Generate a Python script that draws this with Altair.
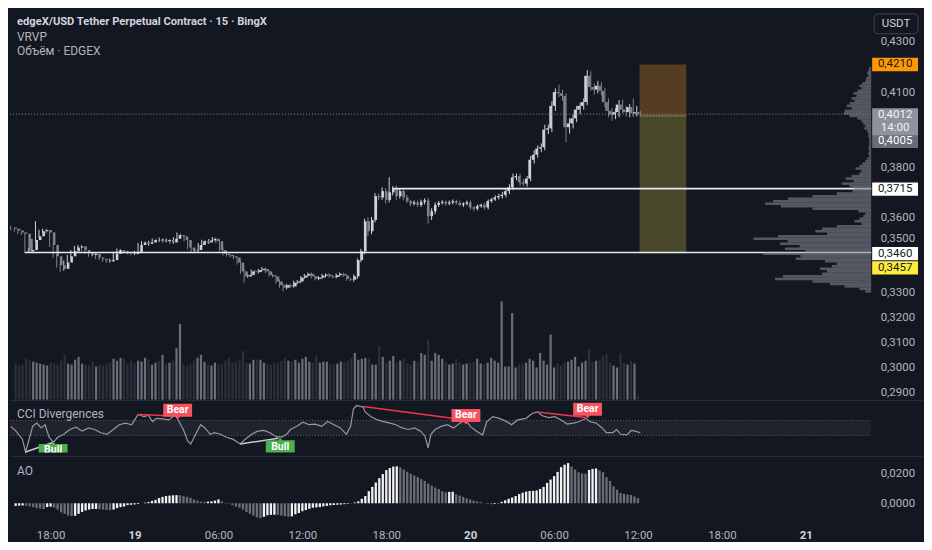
import altair as alt
import pandas as pd

BG = "#131722"
FONT = "Roboto"
W = 864
H_MAIN, H_CCI, H_AO = 392, 52, 64

# ---------------- data ----------------
first_open = 0.3560
closes = [
    0.3555, 0.3548, 0.3540, 0.3535, 0.3465, 0.3470, 0.3510, 0.3525, 0.3545, 0.3550,
    0.3540, 0.3490, 0.3445, 0.3410, 0.3395, 0.3420, 0.3445, 0.3465, 0.3480, 0.3485,
    0.3470, 0.3460, 0.3450, 0.3455, 0.3440, 0.3435, 0.3430, 0.3425, 0.3430, 0.3455,
    0.3470, 0.3465, 0.3462, 0.3458, 0.3455, 0.3460, 0.3490, 0.3500, 0.3495, 0.3500,
    0.3510, 0.3508, 0.3512, 0.3505, 0.3510, 0.3500, 0.3515, 0.3530, 0.3525, 0.3510,
    0.3480, 0.3468, 0.3470, 0.3490, 0.3505, 0.3500, 0.3508, 0.3515, 0.3505, 0.3470,
    0.3455, 0.3450, 0.3445, 0.3440, 0.3420, 0.3385, 0.3365, 0.3370, 0.3385, 0.3382,
    0.3390, 0.3395, 0.3385, 0.3370, 0.3365, 0.3345, 0.3330, 0.3320, 0.3330, 0.3325,
    0.3340, 0.3345, 0.3360, 0.3368, 0.3375, 0.3365, 0.3355, 0.3360, 0.3368, 0.3372,
    0.3365, 0.3362, 0.3370, 0.3375, 0.3368, 0.3355, 0.3352, 0.3365, 0.3430, 0.3465,
    0.3585, 0.3545, 0.3590, 0.3685, 0.3680, 0.3705, 0.3670, 0.3700, 0.3715, 0.3685,
    0.3705, 0.3680, 0.3665, 0.3655, 0.3660, 0.3650, 0.3662, 0.3668, 0.3605, 0.3625,
    0.3650, 0.3658, 0.3662, 0.3655, 0.3660, 0.3665, 0.3658, 0.3650, 0.3655, 0.3660,
    0.3640, 0.3635, 0.3645, 0.3650, 0.3640, 0.3665, 0.3672, 0.3680, 0.3685, 0.3690,
    0.3705, 0.3720, 0.3760, 0.3765, 0.3740, 0.3735, 0.3755, 0.3830, 0.3850, 0.3875,
    0.3880, 0.3950, 0.3955, 0.4045, 0.4100, 0.4095, 0.4085, 0.3960, 0.3975, 0.3995,
    0.4030, 0.4045, 0.4060, 0.4165, 0.4120, 0.4110, 0.4125, 0.4105, 0.4060, 0.4025,
    0.4010, 0.4020, 0.4050, 0.4030, 0.4020, 0.4040, 0.4015, 0.4020, 0.4012,
]
# wick lengths above / below the body, in units of 0.0001
upper_wick_e4 = [
    8, 5, 6, 4, 6, 8, 5, 60, 6, 5,
    6, 5, 7, 6, 5, 8, 6, 5, 7, 5,
    6, 4, 6, 5, 7, 5, 6, 4, 6, 8,
    6, 5, 4, 6, 5, 7, 8, 6, 5, 7,
    6, 5, 8, 5, 6, 4, 7, 10, 6, 5,
    6, 5, 7, 8, 6, 5, 6, 7, 5, 6,
    5, 6, 4, 6, 5, 7, 6, 5, 8, 6,
    5, 7, 6, 5, 6, 5, 7, 6, 5, 6,
    8, 5, 6, 7, 5, 6, 4, 6, 7, 5,
    6, 5, 7, 6, 5, 6, 4, 8, 6, 10,
    10, 15, 12, 12, 10, 15, 12, 60, 10, 12,
    10, 8, 10, 6, 8, 7, 9, 8, 10, 12,
    10, 8, 7, 6, 8, 7, 6, 9, 5, 7,
    8, 6, 7, 5, 8, 7, 6, 8, 10, 12,
    10, 12, 15, 10, 8, 12, 10, 15, 18, 12,
    15, 20, 15, 18, 15, 30, 15, 10, 20, 15,
    15, 12, 15, 23, 18, 15, 20, 15, 12, 15,
    12, 15, 18, 20, 15, 12, 35, 25, 5,
]
lower_wick_e4 = [
    6, 5, 7, 5, 8, 6, 7, 6, 5, 6,
    5, 8, 6, 10, 12, 7, 5, 6, 5, 6,
    5, 6, 7, 5, 6, 5, 7, 6, 5, 6,
    7, 5, 6, 5, 6, 5, 7, 6, 5, 8,
    6, 5, 6, 7, 5, 6, 5, 6, 7, 5,
    8, 6, 5, 6, 7, 5, 6, 5, 8, 6,
    7, 6, 5, 6, 8, 10, 25, 6, 7, 5,
    6, 5, 7, 6, 5, 8, 10, 15, 7, 6,
    5, 6, 7, 5, 6, 8, 6, 5, 6, 7,
    5, 6, 5, 7, 6, 8, 6, 8, 10, 8,
    12, 20, 12, 10, 12, 10, 15, 10, 12, 15,
    10, 12, 8, 10, 7, 9, 8, 10, 30, 15,
    12, 8, 7, 9, 6, 8, 7, 6, 8, 7,
    8, 10, 7, 6, 9, 8, 7, 6, 8, 10,
    10, 12, 10, 12, 15, 10, 12, 10, 15, 12,
    15, 12, 18, 15, 20, 15, 20, 60, 25, 20,
    15, 18, 15, 12, 15, 20, 15, 18, 20, 25,
    25, 18, 20, 15, 18, 20, 15, 12, 5,
]
volume = [
    37, 35, 36, 42, 40, 39, 38, 37, 36, 35,
    38, 37, 36, 40, 46, 37, 36, 41, 44, 37,
    36, 35, 39, 34, 36, 35, 37, 38, 42, 40,
    43, 42, 37, 40, 37, 40, 39, 43, 41, 36,
    38, 40, 46, 37, 38, 40, 53, 78, 36, 35,
    37, 40, 43, 46, 39, 36, 35, 38, 36, 37,
    40, 43, 38, 39, 41, 50, 38, 37, 41, 41,
    41, 38, 37, 36, 38, 37, 40, 43, 40, 39,
    41, 38, 42, 44, 39, 38, 45, 38, 39, 39,
    37, 36, 37, 39, 38, 40, 43, 48, 41, 42,
    43, 42, 36, 36, 55, 44, 38, 40, 45, 38,
    40, 42, 37, 36, 40, 39, 48, 46, 62, 40,
    48, 46, 42, 38, 36, 37, 42, 38, 36, 37,
    38, 39, 42, 37, 36, 38, 43, 40, 38, 101,
    34, 34, 89, 33, 36, 37, 38, 42, 40, 33,
    48, 40, 36, 67, 33, 37, 35, 38, 39, 41,
    44, 34, 38, 40, 52, 39, 40, 41, 45, 47,
    38, 35, 33, 48, 38, 36, 40, 37, 4,
]
# Awesome Oscillator, units of 0.0001
ao_e4 = [
    -18, -16, -15, -17, -21, -26, -33, -36, -39, -26,
    -23, -30, -43, -62, -72, -83, -87, -85, -72, -59,
    -49, -43, -39, -39, -41, -43, -46, -48, -43, -33,
    -26, -22, -13, -10, -8, -5, 0, 4, 8, 16,
    23, 35, 43, 49, 52, 54, 55, 54, 49, 43,
    37, 25, 18, 11, 10, 11, 13, 18, 26, 13,
    3, -3, -13, -23, -30, -43, -59, -72, -84, -95,
    -102, -92, -82, -79, -78, -79, -84, -87, -92, -89,
    -75, -66, -54, -46, -38, -30, -28, -26, -21, -18,
    -14, -12, -10, -9, -6, -4, 1, 5, 13, 30,
    49, 82, 111, 141, 170, 198, 225, 239, 249, 251,
    243, 229, 214, 200, 188, 177, 164, 151, 134, 120,
    107, 96, 82, 75, 77, 78, 61, 52, 43, 33,
    26, 18, 13, 8, 1, -5, -7, -5, 2, 10,
    20, 30, 39, 49, 62, 72, 79, 83, 84, 87,
    97, 111, 138, 161, 184, 213, 245, 262, 273, 249,
    229, 210, 203, 201, 226, 233, 236, 223, 210, 177,
    151, 115, 92, 70, 64, 60, 56, 46, 35,
]
# CCI trace: (bar number, value)
cci_points = [
    (0, 21), (1.5, -43), (3.3, -150), (4.2, -321), (5.1, -171), (6.2, 21), (7.4, 64),
    (8.6, 0), (9.7, 43), (10.9, -128), (12.1, -192), (13.2, -128), (15, -85), (16.7, -21),
    (18.5, 9), (20.2, -43), (22, 0), (23.7, -21), (25.5, -64), (27.2, -85), (29, -21),
    (30.7, 43), (32.5, 64), (34.2, 43), (36, 179), (37.7, 150), (38.9, 171), (40.1, 85),
    (41.2, 128), (43, 120), (44.7, 107), (46.5, 171), (47.6, 85), (48.8, -21), (50, -171),
    (50.9, -214), (52.3, -85), (53.7, 43), (54.9, 0), (56.4, -85), (57.6, -64), (59.3, -85),
    (61.1, -128), (62.8, -150), (64.9, -214), (66.3, -150), (68.1, -85), (69.8, -43),
    (71.6, -34), (73.3, -64), (75.1, -120), (76.8, -120), (78, -85), (79.1, -21), (80.9, 21),
    (82.6, 77), (84.4, 43), (86.1, 51), (87.9, 21), (89.6, 85), (91.4, 43), (93.2, 0),
    (94.9, -85), (96.1, 21), (96.9, 256), (97.8, 299), (99.6, 278), (100.2, 214),
    (101.9, 150), (103.7, 107), (105.4, 85), (107.2, 64), (108.9, 43), (110.7, 0),
    (112.4, -21), (114.2, 0), (115.9, -43), (117.1, -107), (118, -265), (118.8, -85),
    (120, -21), (121.7, 21), (123.5, 43), (125.2, 0), (127, 64), (128.7, 107), (129.9, 21),
    (131.7, -43), (133.4, -94), (134.6, 85), (136.3, 150), (138.1, 128), (139.8, 94),
    (141.6, 43), (143.3, 107), (145.7, 128), (147.4, 192), (148.9, 214), (150.3, 162),
    (152.1, 137), (153.8, 150), (155.6, 107), (157.3, 51), (159.1, 64), (160.8, 85),
    (162.6, 128), (163.7, 85), (165.5, 64), (167.2, 0), (168.4, -64), (170.2, -64),
    (171.3, -21), (172.5, -85), (174.2, -94), (175.4, -34), (176.6, -43), (178, -64),
]
# divergence lines: (id, kind, bar, value)
div_points = [
    ("b1", "bear", 36, 179), ("b1", "bear", 46.5, 160),
    ("b2", "bear", 99.6, 285), ("b2", "bear", 128.7, 107),
    ("b3", "bear", 148.9, 214), ("b3", "bear", 162.6, 140),
    ("u1", "bull", 4.2, -321), ("u1", "bull", 12.1, -192),
    ("u2", "bull", 64.9, -214), ("u2", "bull", 75.7, -137),
]
div_labels = [
    ("Bear", 47.2, 237), ("Bear", 128.7, 167), ("Bear", 163.1, 250),
    ("Bull", 12.0, -301), ("Bull", 76.2, -250),
]
# visible-range volume profile: widths of rows from 0.419 downward, 0.001 per row
vrvp_top = 0.419
vrvp_widths = [
    2, 3, 4, 3, 5, 6, 9, 12, 10, 14,
    18, 15, 20, 17, 22, 25, 20, 27, 28, 22,
    14, 10, 8, 6, 7, 4, 3, 3, 2, 2,
    2, 2, 3, 2, 3, 2, 4, 6, 9, 12,
    16, 10, 12, 20, 26, 18, 30, 22, 17, 19,
    35, 60, 85, 100, 108, 92, 60, 13, 6, 8,
    12, 17, 10, 35, 50, 57, 45, 95, 120, 85,
    93, 73, 88, 67, 110, 72, 77, 47, 35, 40,
    52, 45, 50, 90, 98, 60, 42, 27, 12, 6,
]
price_ticks = [0.43, 0.41, 0.38, 0.36, 0.35, 0.33, 0.32, 0.31, 0.30, 0.29]
level_lines = [("2025-06-18 16:30", 0.3460), ("2025-06-19 18:30", 0.3715)]
last_price = 0.4012
pos_start, pos_end = "2025-06-20 11:57", "2025-06-20 15:15"
entry, target, stop = 0.4005, 0.4210, 0.3457
# axis price tags: text, shown at price, background, text colour
price_tags = [
    ("0,4210", 0.4210, "#ff9800", "#131722"),
    ("0,4005", 0.3903, "#6a6d78", "#ffffff"),
    ("0,3715", 0.3713, "#ffffff", "#131722"),
    ("0,3460", 0.3456, "#ffffff", "#131722"),
    ("0,3457", 0.3399, "#ffeb3b", "#131722"),
]
last_tag = [("0,4012", 0.4010), ("14:00", 0.3957)]
last_tag_center = 0.3982

# ---------------- structures ----------------
def ms(ts):
    return int(pd.Timestamp(ts).value // 1_000_000)

t0 = pd.Timestamp("2025-06-18 15:30")
def bar_ms(b):
    return ms(t0 + pd.Timedelta(minutes=15 * b))

X_START, X_END = ms("2025-06-18 15:27"), ms("2025-06-21 04:19")
n = len(closes)
times = [bar_ms(i) for i in range(n)]
opens = [first_open] + closes[:-1]
highs = [max(o, c) + u / 10000 for o, c, u in zip(opens, closes, upper_wick_e4)]
lows = [min(o, c) - d / 10000 for o, c, d in zip(opens, closes, lower_wick_e4)]
up = [c >= o for o, c in zip(opens, closes)]
candles = pd.DataFrame({
    "t": times, "o": opens, "c": closes, "h": highs, "l": lows, "v": volume[:n],
    "col": ["#cfd1d6" if u else "#80838d" for u in up],
    "vcol": ["#6b6e78" if u else "#2c303b" for u in up],
})
ao_vals = [v / 10000 for v in ao_e4[:n]]
ao_df = pd.DataFrame({
    "t": times[:len(ao_vals)], "ao": ao_vals, "z": 0.0,
    "col": ["#f2f2f2" if (i == 0 or ao_vals[i] >= ao_vals[i - 1]) else "#6b6e77"
            for i in range(len(ao_vals))],
})

xs = alt.Scale(type="utc", domain=[X_START, X_END], nice=False)
ys = alt.Scale(domain=[0.28736, 0.44318], nice=False, zero=False)
cys = alt.Scale(domain=[-327, 365], nice=False, zero=False)
ays = alt.Scale(domain=[-0.0115, 0.0318], nice=False, zero=False)

def right_axis(values, fmt, **kw):
    return alt.Axis(orient="right", values=values, title=None, grid=False, domain=False,
                    ticks=False, labelColor="#b2b5be", labelFont=FONT, labelFontSize=11.5,
                    labelPadding=9, labelExpr=f"replace(format(datum.value, '{fmt}'), '.', ',')", **kw)

one = pd.DataFrame({"a": [0]})
X = lambda f: alt.X(f, scale=xs, axis=None)
Y = lambda f, s=ys: alt.Y(f, scale=s, axis=None)

# ---------------- main price panel ----------------
pos_df = pd.DataFrame({
    "t1": [ms(pos_start)] * 2, "t2": [ms(pos_end)] * 2,
    "p1": [entry, stop], "p2": [target, entry], "fill": ["#553d22", "#4a482b"],
})
posbox = alt.Chart(pos_df).mark_rect().encode(
    x=X("t1:T"), x2="t2:T", y=Y("p1:Q"), y2="p2:Q", color=alt.Color("fill:N", scale=None))
entry_line = alt.Chart(pd.DataFrame({"t1": [ms(pos_start)], "t2": [ms(pos_end)], "p": [entry]})).mark_rule(
    color="#8f7f45", strokeWidth=1).encode(x=X("t1:T"), x2="t2:T", y=Y("p:Q"))

vol = alt.Chart(candles).mark_bar(size=2.2).encode(
    x=X("t:T"), y=alt.Y("v:Q", scale=alt.Scale(domain=[0, 402], nice=False), axis=None),
    color=alt.Color("vcol:N", scale=None))
wicks = alt.Chart(candles).mark_rule(strokeWidth=1).encode(
    x=X("t:T"), y=Y("l:Q"), y2="h:Q", color=alt.Color("col:N", scale=None))
price_axis = right_axis(
    price_ticks, ".4f",
    labelOffset={"condition": {"test": "abs(datum.value - 0.35) < 0.0001", "value": -4}, "value": 0},
)
bodies = alt.Chart(candles).mark_bar(size=2.6).encode(
    x=X("t:T"), y=alt.Y("o:Q", scale=ys, axis=price_axis), y2="c:Q",
    color=alt.Color("col:N", scale=None))

hl_df = pd.DataFrame({"t1": [ms(a) for a, _ in level_lines], "t2": X_END, "p": [p for _, p in level_lines]})
hlines = alt.Chart(hl_df).mark_rule(color="#e8eaf0", strokeWidth=1.6).encode(
    x=X("t1:T"), x2="t2:T", y=Y("p:Q"))
dotted = alt.Chart(pd.DataFrame({"t1": [X_START], "t2": [X_END], "p": [last_price]})).mark_rule(
    color="#8a8d96", strokeDash=[1, 2], strokeWidth=1).encode(x=X("t1:T"), x2="t2:T", y=Y("p:Q"))

vr = pd.DataFrame({"p0": [round(vrvp_top - 0.001 * k, 3) for k in range(len(vrvp_widths))],
                   "w": vrvp_widths})
vr["p1"] = vr["p0"] + 0.001
vr["zero"] = 0
vrvp = alt.Chart(vr).mark_rect(color="#7e8189", opacity=0.62).encode(
    x=alt.X("w:Q", scale=alt.Scale(domain=[878, 0], nice=False), axis=None), x2="zero:Q",
    y=Y("p0:Q"), y2="p1:Q")

tags = pd.DataFrame(price_tags, columns=["txt", "pos", "bg", "fg"])
BOX = "M-1,-0.29L1,-0.29L1,0.29L-1,0.29Z"
BOX2 = "M-1,-0.59L1,-0.59L1,0.59L-1,0.59Z"
tag_box = alt.Chart(tags).mark_point(shape=BOX, size=2116, filled=True, opacity=1, strokeWidth=0).encode(
    x=alt.value(W + 24), y=Y("pos:Q"), color=alt.Color("bg:N", scale=None))
tag_txt = alt.Chart(tags).mark_text(font=FONT, fontSize=11.5, align="center", baseline="middle").encode(
    x=alt.value(W + 24), y=Y("pos:Q"), text="txt:N", color=alt.Color("fg:N", scale=None))
last_box = alt.Chart(pd.DataFrame({"pos": [last_tag_center]})).mark_point(
    shape=BOX2, size=2116, filled=True, opacity=1, strokeWidth=0, color="#8f929b").encode(
    x=alt.value(W + 24), y=Y("pos:Q"))
last_txt = alt.Chart(pd.DataFrame(last_tag, columns=["txt", "pos"])).mark_text(
    font=FONT, fontSize=11.5, align="center", baseline="middle", color="#f0f3fa").encode(
    x=alt.value(W + 24), y=Y("pos:Q"), text="txt:N")

usdt_box = alt.Chart(one).mark_rect(fill=BG, stroke="#434651", strokeWidth=1, cornerRadius=4).encode(
    x=alt.value(W + 3), x2=alt.value(W + 47), y=alt.value(5), y2=alt.value(25))
usdt_txt = alt.Chart(one).mark_text(text="USDT", font=FONT, fontSize=11.5, color="#d1d4dc",
                                    align="center", baseline="middle").encode(
    x=alt.value(W + 25), y=alt.value(15))

h1 = alt.Chart(one).mark_text(text="edgeX/USD Tether Perpetual Contract · 15 · BingX", font=FONT,
                              fontSize=11.2, fontWeight="bold", color="#d1d4dc", align="left",
                              baseline="middle").encode(x=alt.value(7), y=alt.value(13.5))
h2 = alt.Chart(one).mark_text(text="VRVP", font=FONT, fontSize=12, color="#b2b5be", align="left",
                              baseline="middle").encode(x=alt.value(7), y=alt.value(28))
h3 = alt.Chart(one).mark_text(text="Объём · EDGEX", font=FONT, fontSize=12, color="#b2b5be",
                              align="left", baseline="middle").encode(x=alt.value(7), y=alt.value(42))

main = alt.layer(
    posbox, entry_line, vol, wicks, bodies, hlines, dotted, vrvp,
    tag_box, tag_txt, last_box, last_txt, usdt_box, usdt_txt, h1, h2, h3,
).resolve_scale(x="independent", y="independent").properties(width=W, height=H_MAIN)

# ---------------- CCI panel ----------------
cci_df = pd.DataFrame({"t": [bar_ms(b) for b, _ in cci_points], "v": [v for _, v in cci_points]})
band_df = pd.DataFrame({"t1": [X_START], "t2": [X_END], "lo": [-100], "hi": [100]})
band = alt.Chart(band_df).mark_rect(color="#9598a1", opacity=0.1).encode(
    x=X("t1:T"), x2="t2:T", y=Y("lo:Q", cys), y2="hi:Q")
band_lines = alt.Chart(pd.DataFrame({"t1": [X_START] * 2, "t2": [X_END] * 2, "lv": [100, -100]})).mark_rule(
    color="#5d606b", strokeDash=[1, 2], strokeWidth=1).encode(x=X("t1:T"), x2="t2:T", y=Y("lv:Q", cys))
cci_line = alt.Chart(cci_df).mark_line(color="#9598a1", strokeWidth=1.2).encode(
    x=X("t:T"), y=alt.Y("v:Q", scale=cys, axis=right_axis([0], ".2f")))
div_df = pd.DataFrame(div_points, columns=["id", "kind", "bar", "v"])
div_df["t"] = [bar_ms(b) for b in div_df["bar"]]
div_df["col"] = ["#f23645" if k == "bear" else "#c8cad0" for k in div_df["kind"]]
div_lines = alt.Chart(div_df).mark_line(strokeWidth=1.5).encode(
    x=X("t:T"), y=Y("v:Q", cys), detail="id:N", color=alt.Color("col:N", scale=None))
lab_df = pd.DataFrame(div_labels, columns=["txt", "bar", "v"])
lab_df["t"] = [bar_ms(b) for b in lab_df["bar"]]
BEAR = "M-1,-0.45L1,-0.45L1,0.45L0.15,0.45L0,0.62L-0.15,0.45L-1,0.45Z"
BULL = "M-1,-0.45L-0.15,-0.45L0,-0.62L0.15,-0.45L1,-0.45L1,0.45L-1,0.45Z"
bear_box = alt.Chart(lab_df[lab_df.txt == "Bear"]).mark_point(
    shape=BEAR, size=841, filled=True, opacity=1, strokeWidth=0, color="#f7525f", clip=True).encode(
    x=X("t:T"), y=Y("v:Q", cys))
bull_box = alt.Chart(lab_df[lab_df.txt == "Bull"]).mark_point(
    shape=BULL, size=841, filled=True, opacity=1, strokeWidth=0, color="#4caf50", clip=True).encode(
    x=X("t:T"), y=Y("v:Q", cys))
lab_txt = alt.Chart(lab_df).mark_text(font=FONT, fontSize=10.5, fontWeight="bold", color="#ffffff",
                                      align="center", baseline="middle", clip=True).encode(
    x=X("t:T"), y=Y("v:Q", cys), text="txt:N")
sep = alt.Chart(one).mark_rule(color="#2a2e39", strokeWidth=1).encode(
    x=alt.value(0), x2=alt.value(W + 52), y=alt.value(0))
cci_title = alt.Chart(one).mark_text(text="CCI Divergences", font=FONT, fontSize=12, color="#b2b5be",
                                     align="left", baseline="middle").encode(x=alt.value(7), y=alt.value(13.5))
cci_panel = alt.layer(band, band_lines, cci_line, div_lines, bear_box, bull_box, lab_txt, sep,
                      cci_title).properties(width=W, height=H_CCI)

# ---------------- AO panel ----------------
tick_ms = [ms("2025-06-18 18:00") + k * 6 * 3600 * 1000 for k in range(10)]
is_day = "utchours(datum.value) == 0"
x_axis = alt.Axis(
    values=tick_ms, title=None, grid=False, domain=False, ticks=False, labelFont=FONT,
    labelFontSize=11.5, labelPadding=9,
    labelExpr=f"{is_day} ? utcFormat(datum.value, '%d') : utcFormat(datum.value, '%H:%M')",
    labelColor={"condition": {"test": is_day, "value": "#d1d4dc"}, "value": "#b2b5be"},
    labelFontWeight={"condition": {"test": is_day, "value": "bold"}, "value": "normal"},
)
ao_bars = alt.Chart(ao_df).mark_bar(size=2.3).encode(
    x=alt.X("t:T", scale=xs, axis=x_axis),
    y=alt.Y("ao:Q", scale=ays, axis=right_axis([0.0, 0.02], ".4f")), y2="z:Q",
    color=alt.Color("col:N", scale=None))
ao_title = alt.Chart(one).mark_text(text="AO", font=FONT, fontSize=12, color="#b2b5be",
                                    align="left", baseline="middle").encode(x=alt.value(7), y=alt.value(14.5))
ao_panel = alt.layer(ao_bars, sep, ao_title).properties(width=W, height=H_AO)

chart = alt.vconcat(main, cci_panel, ao_panel, spacing=0).properties(
    background=BG, padding=0
).configure_view(stroke=None)

chart.save("out.html", embed_options={"renderer": "svg", "actions": False})
